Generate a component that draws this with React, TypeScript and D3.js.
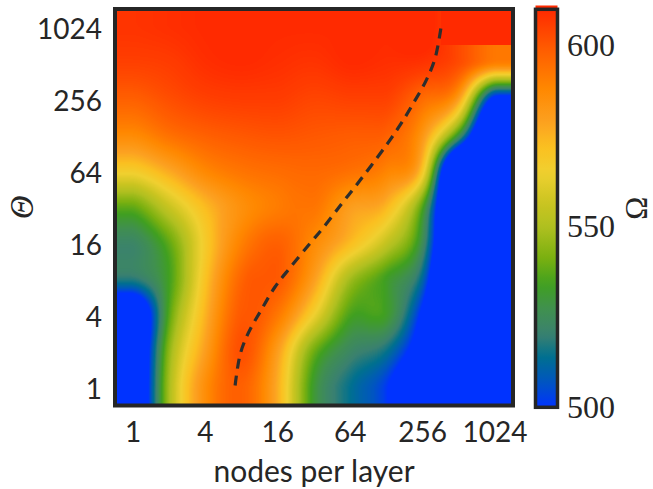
import React, { useMemo } from "react";
import * as d3 from "d3";

// grid of the sweep: nodes per layer (columns) and Theta (rows)
const nodes = [1, 2, 4, 8, 16, 32, 64, 128, 256, 512, 1024];
const thetas = [1, 2, 4, 8, 16, 32, 64, 128, 256, 512, 1024];
const xTicks = [1, 4, 16, 64, 256, 1024];
const yTicks = [1, 4, 16, 64, 256, 1024];
const cbTicks = [500, 550, 600];

// Omega per cell, one row per Theta (Theta = 1 first), columns follow `nodes`.
// null = above the top of the colour range (drawn flat in the max colour)
const omega: (number | null)[][] = [
  [470, 549, 586, 598, 576, 531, 514, 501, 470, 450, 440],
  [470, 545, 580, 602, 580, 540, 523, 515, 486, 440, 430],
  [470, 537, 575, 600, 592, 565, 535, 533, 496, 430, 420],
  [518, 534, 571, 597, 600, 580, 548, 533, 512, 430, 420],
  [522, 538, 568, 590, 598, 587, 573, 555, 526, 440, 420],
  [538, 556, 573, 585, 591, 593, 580, 574, 536, 440, 420],
  [567, 577, 588, 593, 595, 596, 594, 589, 570, 440, 420],
  [587, 594, 598, 600, 601, 600, 599, 598, 583, 530, 440],
  [598, 602, 605, 606, 606, 604, 605, 605, 595, 580, 492],
  [605, 606, 609, 610, 609, 608, 610, 609, 608, 603, 592],
  [608, 609, 610, 610, 610, 610, 610, 610, 612, null, null],
];

// dashed boundary curve
const boundaryNodes = [7.06, 7.78, 9.06, 11.6, 15.1, 20.3, 29.7, 37.3, 53.8, 70.0, 95.0, 131.6, 168.9, 212.3, 272.5, 324, 364];
const boundaryTheta = [1.04, 1.89, 2.83, 4.41, 6.87, 10.06, 16, 20.97, 33.8, 47.2, 70.5, 109.9, 158.7, 232, 362, 552, 1003];

// colour map
const cmapValues = [500, 507, 514, 520, 527, 534, 541, 550, 556, 565, 572, 579, 588, 598, 610];
const cmapColors = ["#0033ff", "#0055c0", "#00708f", "#3a8070", "#409050", "#40a020", "#78b010", "#b0c020", "#c8c420", "#f0d030", "#fbc020", "#fca020", "#ff8800", "#ff6000", "#ff2a00"];
const vmin = 500;
const vmax = 610;

const W = 653;
const H = 489;
const ink = "#262626";

const x = d3.scaleLog().base(2).domain([2 ** -0.5, 2 ** 10.5]).range([115, 513]);
const y = d3.scaleLog().base(2).domain([2 ** -0.5, 2 ** 10.5]).range([405.5, 9]);
const cb = d3.scaleLinear().domain([vmin, vmax]).range([407.3, 9.3]);
const color = d3.scaleLinear<string>().domain(cmapValues).range(cmapColors).clamp(true);

const colIdx = d3.scaleLog().base(2).domain([nodes[0], nodes[nodes.length - 1]]).range([0, nodes.length - 1]);
const rowIdx = d3.scaleLog().base(2).domain([thetas[0], thetas[thetas.length - 1]]).range([0, thetas.length - 1]);

// catmull-rom, limited to the two middle samples so it never rings
const cr = (p0: number, p1: number, p2: number, p3: number, t: number) => {
  const v = p1 + 0.5 * t * (p2 - p0 + t * (2 * p0 - 5 * p1 + 4 * p2 - p3 + t * (3 * (p1 - p2) + p3 - p0)));
  return Math.max(Math.min(p1, p2), Math.min(Math.max(p1, p2), v));
};

// separable box blur on a float field (edge clamped)
function boxBlur(src: Float32Array, w: number, h: number, r: number) {
  const tmp = new Float32Array(w * h);
  const out = new Float32Array(w * h);
  const n = 2 * r + 1;
  for (let j = 0; j < h; j++) {
    for (let i = 0; i < w; i++) {
      let s = 0;
      for (let k = -r; k <= r; k++) s += src[j * w + Math.max(0, Math.min(w - 1, i + k))];
      tmp[j * w + i] = s / n;
    }
  }
  for (let j = 0; j < h; j++) {
    for (let i = 0; i < w; i++) {
      let s = 0;
      for (let k = -r; k <= r; k++) s += tmp[Math.max(0, Math.min(h - 1, j + k)) * w + i];
      out[j * w + i] = s / n;
    }
  }
  return out;
}

function buildImage(): string {
  const x0 = x.range()[0];
  const y0 = y.range()[1];
  const w = Math.round(x.range()[1] - x0);
  const h = Math.round(y.range()[0] - y0);
  const canvas = document.createElement("canvas");
  canvas.width = w;
  canvas.height = h;
  const ctx = canvas.getContext("2d");
  if (!ctx) return "";
  const img = ctx.createImageData(w, h);

  const lut = d3.range(256).map((k) => d3.rgb(color(vmin + (k / 255) * (vmax - vmin))));
  const nr = thetas.length;
  const nc = nodes.length;
  const clampI = (v: number, n: number) => Math.max(0, Math.min(n - 1, v));
  // a saturated cell borrows the value of the cell below it for the smoothing
  const at = (r: number, c: number): number => {
    const rr = clampI(r, nr);
    const v = omega[rr][clampI(c, nc)];
    return v == null ? at(rr - 1, c) : v;
  };

  let field = new Float32Array(w * h);
  const over = new Uint8Array(w * h);
  for (let j = 0; j < h; j++) {
    const gvRaw = rowIdx(y.invert(y0 + j + 0.5));
    const gv = Math.max(0, Math.min(nr - 1, gvRaw));
    const r0 = Math.min(nr - 2, Math.floor(gv));
    const tv = gv - r0;
    for (let i = 0; i < w; i++) {
      const guRaw = colIdx(x.invert(x0 + i + 0.5));
      const gu = Math.max(0, Math.min(nc - 1, guRaw));
      const c0 = Math.min(nc - 2, Math.floor(gu));
      const tu = gu - c0;
      const rows = [-1, 0, 1, 2].map((k) =>
        cr(at(r0 + k, c0 - 1), at(r0 + k, c0), at(r0 + k, c0 + 1), at(r0 + k, c0 + 2), tu)
      );
      field[j * w + i] = cr(rows[0], rows[1], rows[2], rows[3], tv);
      if (omega[clampI(Math.round(gvRaw), nr)][clampI(Math.round(guRaw), nc)] == null) over[j * w + i] = 1;
    }
  }
  field = boxBlur(field, w, h, 3);
  field = boxBlur(field, w, h, 3);

  for (let p = 0; p < w * h; p++) {
    const val = over[p] ? vmax : field[p];
    const k = Math.max(0, Math.min(255, Math.round(((val - vmin) / (vmax - vmin)) * 255)));
    const c = lut[k];
    img.data[p * 4] = c.r;
    img.data[p * 4 + 1] = c.g;
    img.data[p * 4 + 2] = c.b;
    img.data[p * 4 + 3] = 255;
  }
  ctx.putImageData(img, 0, 0);
  return canvas.toDataURL();
}

export default function App() {
  const href = useMemo(() => buildImage(), []);

  const line = d3
    .line<number>()
    .x((_, i) => x(boundaryNodes[i]))
    .y((_, i) => y(boundaryTheta[i]))
    .curve(d3.curveCatmullRom.alpha(0.5));

  const stops = d3.range(0, 41).map((k) => vmin + (k / 40) * (vmax - vmin));
  const cbX = 535.5;
  const cbW = 22;

  return (
    <svg
      width={W}
      height={H}
      style={{ position: "absolute", left: 0, top: 0, background: "#fff" }}
    >
      <defs>
        <linearGradient id="cbar" x1="0" y1="1" x2="0" y2="0">
          {stops.map((v) => (
            <stop key={v} offset={(v - vmin) / (vmax - vmin)} stopColor={color(v)} />
          ))}
        </linearGradient>
      </defs>

      {/* heatmap */}
      <image
        href={href}
        x={x.range()[0]}
        y={y.range()[1]}
        width={x.range()[1] - x.range()[0]}
        height={y.range()[0] - y.range()[1]}
        preserveAspectRatio="none"
      />

      {/* dashed boundary */}
      <path
        d={line(boundaryNodes) || ""}
        fill="none"
        stroke="#2e2e2e"
        strokeWidth={3.2}
        strokeDasharray="10,7"
      />

      <rect
        x={x.range()[0]}
        y={y.range()[1]}
        width={x.range()[1] - x.range()[0]}
        height={y.range()[0] - y.range()[1]}
        fill="none"
        stroke={ink}
        strokeWidth={4}
      />

      {/* axes */}
      <g fontFamily="Lato" fontSize={28} fill={ink}>
        {xTicks.map((t) => (
          <text key={t} x={x(t)} y={441.5} textAnchor="middle">
            {t}
          </text>
        ))}
        {yTicks.map((t) => (
          <text key={t} x={102} y={y(t) + 12} textAnchor="end">
            {t}
          </text>
        ))}
        <text x={314} y={482} textAnchor="middle" fontSize={30}>
          nodes per layer
        </text>
      </g>
      <text
        transform={`translate(22,${(y.range()[0] + y.range()[1]) / 2}) rotate(-90)`}
        textAnchor="middle"
        dominantBaseline="central"
        fontFamily="Liberation Serif"
        fontStyle="italic"
        fontSize={33}
        fill={ink}
      >
        Θ
      </text>

      {/* colorbar */}
      <rect x={cbX} y={5.5} width={cbW} height={3} fill={color(vmax)} />
      <rect x={cbX} y={cb(vmax)} width={cbW} height={cb(vmin) - cb(vmax)} fill="url(#cbar)" />
      <rect
        x={cbX}
        y={cb(vmax)}
        width={cbW}
        height={cb(vmin) - cb(vmax)}
        fill="none"
        stroke={ink}
        strokeWidth={3.5}
      />
      <g fontFamily="Liberation Serif" fontSize={32} fill={ink}>
        {cbTicks.map((t) => (
          <text key={t} x={567} y={cb(t) + 11} textAnchor="start">
            {t}
          </text>
        ))}
      </g>
      <text
        transform={`translate(636,${(cb(vmin) + cb(vmax)) / 2}) rotate(-90)`}
        textAnchor="middle"
        dominantBaseline="central"
        fontFamily="Liberation Serif"
        fontSize={31}
        fill={ink}
      >
        Ω
      </text>
    </svg>
  );
}
